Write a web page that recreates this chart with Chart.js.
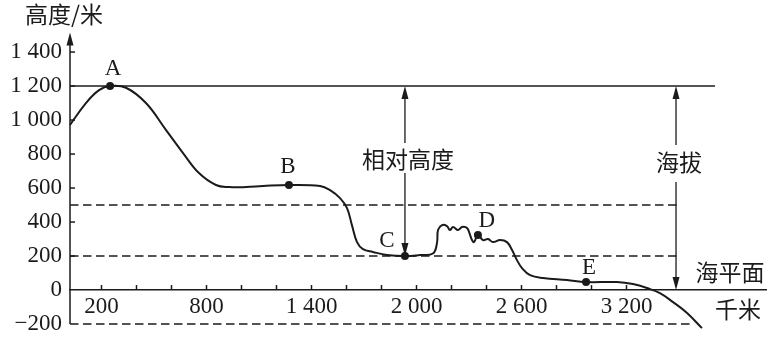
<!DOCTYPE html>
<html><head><meta charset="utf-8">
<script src="https://cdn.jsdelivr.net/npm/chart.js@4.4.1/dist/chart.umd.min.js"></script>
<style>html,body{margin:0;padding:0;background:#fff;}#wrap{width:775px;height:343px;}</style>
</head><body><div id="wrap"><canvas id="c" width="775" height="343"></canvas></div>
<script>
// ---- data ----
const profileKm = [20, 111, 186, 249, 340, 454, 569, 666, 757, 854, 929, 1026, 1123, 1271, 1449, 1506, 1563, 1603, 1631, 1660, 1694, 1751, 1831, 1934, 2020, 2094, 2117, 2123, 2146, 2174, 2191, 2209, 2237, 2260, 2289, 2306, 2317, 2329, 2351, 2380, 2409, 2437, 2477, 2517, 2546, 2574, 2603, 2649, 2723, 2860, 2969, 3146, 3237, 3317, 3391, 3466, 3546, 3631];
const profileElev = [971, 1100, 1176, 1200, 1190, 1100, 941, 806, 688, 618, 606, 606, 612, 618, 612, 588, 541, 482, 382, 282, 241, 224, 206, 200, 206, 215, 276, 353, 382, 376, 353, 371, 353, 371, 365, 324, 294, 282, 324, 294, 300, 282, 294, 282, 235, 176, 129, 88, 71, 59, 47, 47, 35, 12, -18, -71, -135, -224];
const markerNames = ['A', 'B', 'C', 'D', 'E'];
const markerKm = [249, 1271, 1934, 2351, 2969];
const markerElev = [1200, 618, 200, 324, 47];
const xTickValues = [200, 400, 600, 800, 1000, 1200, 1400, 1600, 1800, 2000, 2200, 2400, 2600, 2800, 3000, 3200];
const xTickLabels = ['200', '', '', '800', '', '', '1 400', '', '', '2 000', '', '', '2 600', '', '', '3 200'];
const yTickValues = [-200, 0, 200, 400, 600, 800, 1000, 1200, 1400];
const yTickLabels = ['\u2212200', '0', '200', '400', '600', '800', '1 000', '1 200', '1 400'];
const refLevels = [1200, 500, 200, -200];
const refEndKm = [3706, 3494, 3489, 3580];
const relArrowKm = 1934;   // 相对高度 arrow, from C up to 1200
const absArrowKm = 3483;   // 海拔 arrow, from 0 up to 1200

// ---- style ----
const INK = '#1b1b1b';
const SERIF = '"Liberation Serif","Times New Roman",serif';
const CJK = '"Noto Sans CJK SC","Noto Sans",sans-serif';
const X_MIN = 20, X_MAX = 4000, Y_MIN = -235, Y_MAX = 1515;

function arrowHead(ctx, x, tipY, dir) {
  ctx.beginPath();
  ctx.moveTo(x, tipY);
  ctx.lineTo(x - 3.5, tipY - dir * 13);
  ctx.lineTo(x + 3.5, tipY - dir * 13);
  ctx.closePath();
  ctx.fill();
}

function dblArrow(ctx, x, yTop, yBot, gapTop, gapBot) {
  ctx.beginPath();
  ctx.moveTo(x, yTop + 10); ctx.lineTo(x, gapTop);
  ctx.moveTo(x, gapBot); ctx.lineTo(x, yBot - 10);
  ctx.stroke();
  arrowHead(ctx, x, yTop, -1);
  arrowHead(ctx, x, yBot, 1);
}

const overlay = {
  id: 'overlay',
  afterDatasetsDraw(chart) {
    const { ctx, chartArea, scales: { x, y } } = chart;
    ctx.save();
    ctx.strokeStyle = INK; ctx.fillStyle = INK; ctx.lineWidth = 1.5;
    const L = x.getPixelForValue(X_MIN);
    const y0 = y.getPixelForValue(0);
    ctx.beginPath();
    ctx.moveTo(L, y.getPixelForValue(-200));
    ctx.lineTo(L, chartArea.top + 8);
    ctx.stroke();
    arrowHead(ctx, L, chartArea.top, -1);
    yTickValues.forEach(v => {
      if (v === -200 || v === 0) return;
      const py = y.getPixelForValue(v);
      ctx.beginPath(); ctx.moveTo(L, py); ctx.lineTo(L + 5, py); ctx.stroke();
    });
    xTickValues.forEach(v => {
      const px = x.getPixelForValue(v);
      ctx.beginPath(); ctx.moveTo(px, y0); ctx.lineTo(px, y0 - 5); ctx.stroke();
    });
    ctx.lineWidth = 1.3;
    dblArrow(ctx, x.getPixelForValue(relArrowKm), y.getPixelForValue(1200), y.getPixelForValue(200),
      y.getPixelForValue(865), y.getPixelForValue(688));
    dblArrow(ctx, x.getPixelForValue(absArrowKm), y.getPixelForValue(1200), y.getPixelForValue(0),
      y.getPixelForValue(853), y.getPixelForValue(635));
    ctx.font = '23px ' + CJK;
    ctx.textAlign = 'center'; ctx.textBaseline = 'middle';
    ctx.fillText('相对高度', x.getPixelForValue(relArrowKm) + 3, y.getPixelForValue(770));
    ctx.fillText('海拔', x.getPixelForValue(absArrowKm) + 3, y.getPixelForValue(750));
    ctx.fillText('海平面', x.getPixelForValue(3791), y.getPixelForValue(106));
    ctx.fillText('千米', x.getPixelForValue(3837), y.getPixelForValue(-112));
    ctx.fillText('高度/米', L - 6, chartArea.top - 18);
    ctx.font = '23px ' + SERIF;
    const off = [[3, -17], [-1, -18], [-18, -15], [9, -14], [3, -14]];
    markerNames.forEach((n, i) => {
      ctx.fillText(n, x.getPixelForValue(markerKm[i]) + off[i][0], y.getPixelForValue(markerElev[i]) + off[i][1]);
    });
    ctx.restore();
  }
};

const refSets = refLevels.map((lv, i) => ({
  data: [{ x: X_MIN, y: lv }, { x: refEndKm[i], y: lv }],
  borderColor: INK, borderWidth: 1.5,
  borderDash: lv === 1200 ? [] : [8.5, 4.5],
  pointRadius: 0, clip: false
}));

new Chart(document.getElementById('c'), {
  type: 'line',
  data: {
    datasets: [
      ...refSets,
      {
        data: profileKm.map((k, i) => ({ x: k, y: profileElev[i] })),
        borderColor: INK, borderWidth: 2, pointRadius: 0,
        tension: 0.4, clip: false
      },
      {
        data: markerKm.map((k, i) => ({ x: k, y: markerElev[i] })),
        showLine: false, pointRadius: 4, pointBackgroundColor: INK,
        pointBorderColor: INK, pointBorderWidth: 0
      }
    ]
  },
  options: {
    responsive: false, animation: false, devicePixelRatio: 1,
    layout: { padding: { left: 0, top: 32.5, right: 8.5, bottom: 13 } },
    plugins: { legend: { display: false }, tooltip: { enabled: false } },
    scales: {
      x: {
        type: 'linear', min: X_MIN, max: X_MAX, position: { y: 0 },
        afterBuildTicks: s => { s.ticks = xTickValues.map(v => ({ value: v })); },
        ticks: {
          autoSkip: false, maxRotation: 0, padding: 3, color: INK,
          font: { family: SERIF, size: 23 },
          callback: (v, i) => xTickLabels[i]
        },
        grid: { drawOnChartArea: false, drawTicks: false },
        border: { display: true, color: INK, width: 1.5 }
      },
      y: {
        type: 'linear', min: Y_MIN, max: Y_MAX, position: 'left',
        afterFit: s => { s.width = 70; },
        afterBuildTicks: s => { s.ticks = yTickValues.map(v => ({ value: v })); },
        ticks: {
          padding: 0, color: INK,
          font: { family: SERIF, size: 23, lineHeight: 1.1 },
          callback: (v, i) => yTickLabels[i]
        },
        grid: { drawOnChartArea: false, drawTicks: true, tickLength: 8, color: 'rgba(0,0,0,0)' },
        border: { display: false }
      }
    }
  },
  plugins: [overlay]
});
</script>
</body></html>
